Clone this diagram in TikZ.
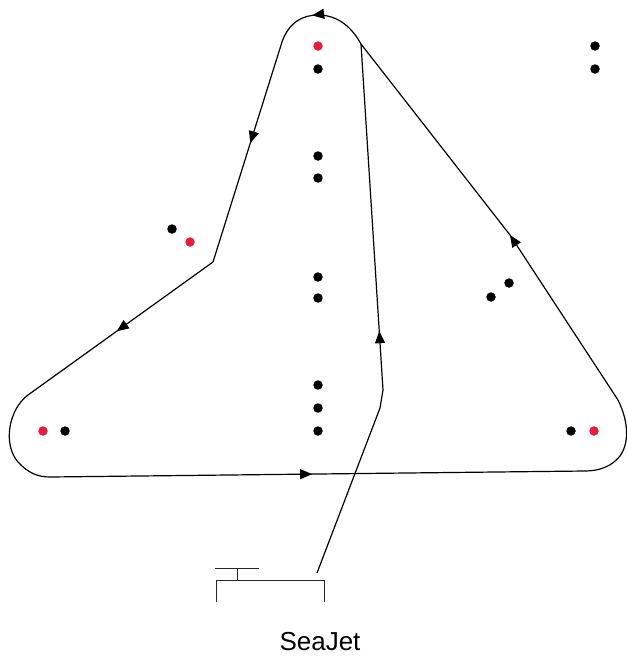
\documentclass[tikz,border=0pt]{standalone}
\usepackage{fontspec}
\setmainfont{Liberation Sans}
\usetikzlibrary{arrows.meta,decorations.markings}
\definecolor{dotred}{RGB}{226,30,64}
\tikzset{
  route/.style={line width=1.2pt,black},
  dock/.style={line width=0.9pt,black!85},
  arr/.style={decoration={markings,mark=at position #1 with {\arrow{Triangle[length=12pt,width=10pt]}}},postaction={decorate}},
  bdot/.style={circle,fill=black,inner sep=0pt,minimum size=9.5pt},
  rdot/.style={circle,fill=dotred,inner sep=0pt,minimum size=9.5pt},
}
\begin{document}
\begin{tikzpicture}[x=1pt,y=-1pt]
\useasboundingbox (0,0) rectangle (627,657);
% route points
\coordinate (s0) at (317,573);
\coordinate (s1) at (380,408);
\coordinate (s2) at (383,390);
\coordinate (tj) at (361,44);
\coordinate (pk) at (318,15);
\coordinate (tl) at (282,42);
\coordinate (bend) at (213,262);
\coordinate (ll) at (28,395);
\coordinate (bl) at (50,477);
\coordinate (br) at (585,471);
\coordinate (rr) at (618,400);
\coordinate (ra) at (510,235);
% route
\draw[route] (s0) -- (s1) -- (s2);
\draw[route,arr=0.17] (s2) -- (tj);
\draw[route] (tj) .. controls (350,24) and (335,15) .. (pk);
\draw[route,arr=0.12] (pk) .. controls (303,15) and (289,22) .. (tl);
\draw[route,arr=0.46] (tl) -- (bend);
\draw[route,arr=0.52] (bend) -- (ll);
\draw[route] (ll) .. controls (8,410) and (3,445) .. (18,462) .. controls (28,473) and (38,477) .. (bl);
\draw[route,arr=0.49] (bl) -- (br);
\draw[route] (br) .. controls (600,471) and (612,466) .. (620,456) .. controls (630,442) and (628,420) .. (rr);
\draw[route,arr=1] (rr) -- (ra);
\draw[route] (ra) -- (tj);
% dock
\coordinate (d1) at (216,602);
\coordinate (d2) at (216,580);
\coordinate (d3) at (324,580);
\coordinate (d4) at (324,602);
\coordinate (t1) at (215,568);
\coordinate (t2) at (259,568);
\coordinate (t3) at (237,568);
\coordinate (t4) at (237,580);
\draw[dock] (d1) -- (d2) -- (d3) -- (d4);
\draw[dock] (t1) -- (t2);
\draw[dock] (t3) -- (t4);
\node[anchor=base,font=\fontsize{26}{30}\selectfont] (lbl) at (320,650) {SeaJet};
% dots
\node[rdot] (r1) at (318,46) {};
\node[rdot] (r2) at (190,242) {};
\node[rdot] (r3) at (43,431) {};
\node[rdot] (r4) at (594,431) {};
\node[bdot] (b1) at (318,69) {};
\node[bdot] (b2) at (318,156) {};
\node[bdot] (b3) at (318,178) {};
\node[bdot] (b4) at (318,277) {};
\node[bdot] (b5) at (318,298) {};
\node[bdot] (b6) at (318,385) {};
\node[bdot] (b7) at (318,408) {};
\node[bdot] (b8) at (318,431) {};
\node[bdot] (b9) at (172,229) {};
\node[bdot] (b10) at (65,431) {};
\node[bdot] (b11) at (571,431) {};
\node[bdot] (b12) at (491,297) {};
\node[bdot] (b13) at (509,283) {};
\node[bdot] (b14) at (595,46) {};
\node[bdot] (b15) at (595,69) {};
\end{tikzpicture}
\end{document}
